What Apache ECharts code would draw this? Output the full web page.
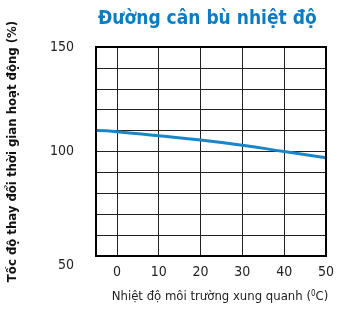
<!DOCTYPE html>
<html>
<head>
<meta charset="utf-8">
<script src="https://cdn.jsdelivr.net/npm/echarts@6/dist/echarts.min.js"></script>
<style>
  html, body { margin: 0; padding: 0; background: #fff; }
  #chart { width: 341px; height: 311px; }
</style>
</head>
<body>
<div id="chart"></div>
<script>
// nhiệt độ (°C) và tốc độ thay đổi (%)
var temps = [-5, 0, 10, 20, 30, 40, 50];
var rates = [110, 109.5, 107.5, 105.5, 103, 100, 97];
var yLabels = [50, 100, 150];
var xLabels = [0, 10, 20, 30, 40, 50];

var FONT = '"DejaVu Sans Condensed", "Liberation Sans Narrow", sans-serif';

var points = temps.map(function (t, i) { return [t, rates[i]]; });

var chart = echarts.init(document.getElementById('chart'));
var option = {
  animation: false,
  title: {
    text: 'Đường cân bù nhiệt độ',
    left: 93,
    top: 5,
    textStyle: { fontFamily: FONT, fontSize: 19, fontWeight: 'bold', color: '#0a7cc4' }
  },
  grid: { left: 96, top: 47, right: 15, bottom: 55, containLabel: false, outerBoundsMode: 'none' },
  xAxis: {
    type: 'value',
    min: -5,
    max: 50,
    interval: 5,
    name: 'Nhiệt độ môi trường xung quanh ({sup|0}C)',
    nameLocation: 'middle',
    nameGap: 34,
    nameTextStyle: {
      fontFamily: FONT, fontSize: 13, color: '#222', padding: [0, 0, 0, 18],
      rich: { sup: { fontFamily: FONT, fontSize: 8, color: '#222', verticalAlign: 'top', padding: [0, 0, 6, 0] } }
    },
    axisLine: { show: true, onZero: false, lineStyle: { color: '#000', width: 2 } },
    axisTick: { show: false },
    axisLabel: {
      margin: 9,
      fontFamily: FONT, fontSize: 14, color: '#222',
      formatter: function (v) { return xLabels.indexOf(v) >= 0 ? String(v) : ''; }
    },
    splitLine: { show: true, lineStyle: { color: ['transparent', '#222'], width: 1 } }
  },
  yAxis: {
    type: 'value',
    min: 50,
    max: 150,
    interval: 10,
    name: 'Tốc độ thay đổi thời gian hoạt động (%)',
    nameLocation: 'middle',
    nameGap: 77,
    nameTextStyle: { fontFamily: FONT, fontSize: 13, fontWeight: 'bold', color: '#111', padding: [0, 0, 0, 0] },
    axisLine: { show: true, onZero: false, lineStyle: { color: '#000', width: 2 } },
    axisTick: { show: false },
    axisLabel: {
      margin: 22,
      fontFamily: FONT, fontSize: 14, color: '#222',
      formatter: function (v) {
        if (v === 50) return '{low|50}';
        return yLabels.indexOf(v) >= 0 ? String(v) : '';
      },
      rich: { low: { fontFamily: FONT, fontSize: 14, color: '#222', padding: [18, 0, 0, 0] } }
    },
    splitLine: { show: true, lineStyle: { color: '#222', width: 1 } }
  },
  series: [{
    type: 'line',
    data: points,
    smooth: true,
    showSymbol: false,
    lineStyle: { color: '#1a86c8', width: 3 }
  }]
};
chart.setOption(option);

// khung viền ngoài
chart.setOption({
  graphic: [{
    type: 'rect',
    shape: { x: 96, y: 47, width: 230, height: 209 },
    style: { fill: 'none', stroke: '#000', lineWidth: 2 },
    z: 10
  }]
});
</script>
</body>
</html>
